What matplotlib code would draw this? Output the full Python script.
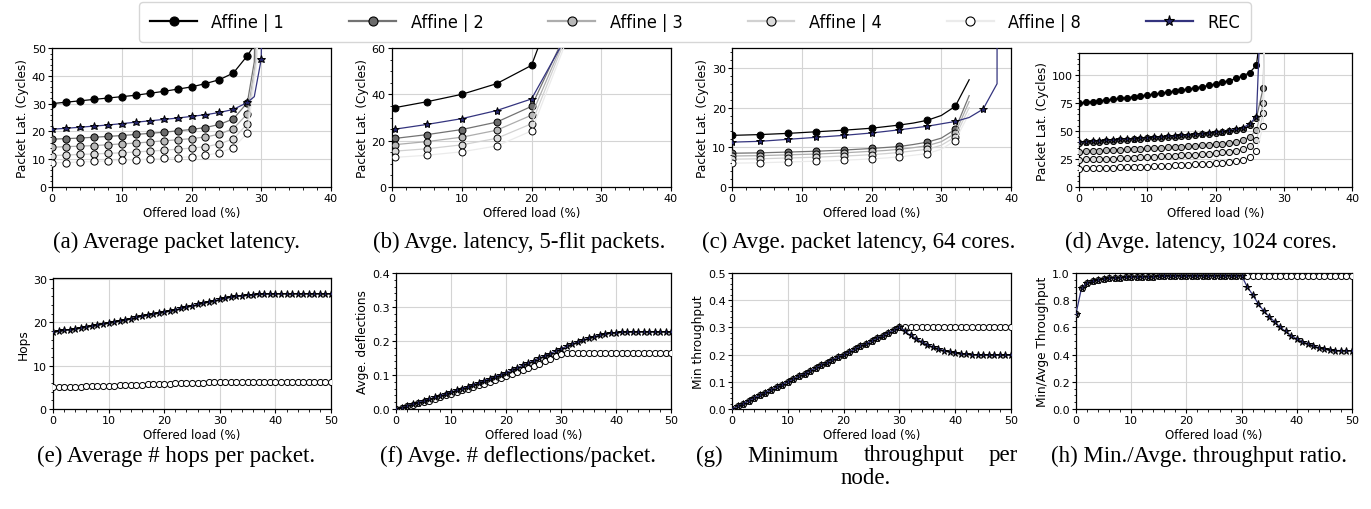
import matplotlib
matplotlib.use('Agg')
import matplotlib.pyplot as plt
from matplotlib.lines import Line2D

W, H = 1371, 510

LABELS = ['Affine | 1', 'Affine | 2', 'Affine | 3', 'Affine | 4', 'Affine | 8', 'REC']

# ---- (a) average packet latency ----
a_x = [0, 2, 4, 6, 8, 10, 12, 14, 16, 18, 20, 22, 24, 26, 28]
a_aff1 = [30.0, 30.5, 31.0, 31.5, 32.0, 32.5, 33.0, 33.7, 34.4, 35.2, 36.0, 37.2, 38.6, 41.0, 47.2]
a_aff2 = [17.2, 17.4, 17.6, 17.9, 18.2, 18.5, 18.9, 19.3, 19.7, 20.2, 20.7, 21.4, 22.5, 24.5, 30.3]
a_aff3 = [14.3, 14.5, 14.7, 14.9, 15.2, 15.5, 15.8, 16.2, 16.6, 17.0, 17.4, 18.0, 19.0, 21.0, 26.3]
a_aff4 = [11.3, 11.5, 11.7, 11.9, 12.1, 12.3, 12.6, 12.9, 13.2, 13.6, 14.0, 14.5, 15.5, 17.3, 22.7]
a_aff8 = [8.7, 8.8, 9.0, 9.2, 9.4, 9.6, 9.8, 10.0, 10.3, 10.6, 10.9, 11.4, 12.3, 14.2, 19.3]
# points past saturation (no markers)
a_tail_x = [[29.0, 29.3], [29.0, 29.5], [29.2, 29.6], [29.3, 29.7], [29.4, 29.8]]
a_tail_y = [[51, 100], [45, 100], [45, 100], [45, 100], [45, 100]]
a_rec_x = [0, 2, 4, 6, 8, 10, 12, 14, 16, 18, 20, 22, 24, 26, 28, 29, 30, 30.2]
a_rec = [20.8, 21.1, 21.5, 21.9, 22.3, 22.8, 23.3, 23.8, 24.3, 24.8, 25.4, 26.0, 26.8, 27.9, 30.4, 32.5, 46.0, 100]
a_rec_marks = list(range(15)) + [16]

# ---- (b) 5-flit packets ----
b_x = [0.5, 5, 10, 15, 20]
b_aff1 = [34.3, 36.8, 40.0, 44.6, 52.5]
b_aff2 = [21.0, 22.6, 24.8, 28.0, 34.8]
b_aff3 = [18.3, 19.6, 21.5, 24.5, 31.0]
b_aff4 = [15.5, 16.5, 18.2, 21.0, 27.3]
b_aff8 = [12.8, 13.7, 15.2, 17.7, 24.2]
b_tail_x = [[21, 22], [25], [25], [25], [25]]
b_tail_y = [[60.5, 80], [67], [66], [65], [63]]
b_rec_x = [0.5, 5, 10, 15, 20, 25]
b_rec = [25.0, 27.0, 29.5, 33.0, 38.0, 65.0]

# ---- (c) 64 cores (data every 2%, markers every 4%) ----
c_x = [0, 2, 4, 6, 8, 10, 12, 14, 16, 18, 20, 22, 24, 26, 28, 30, 32, 34]
c_aff1 = [13.0, 13.1, 13.2, 13.35, 13.5, 13.7, 13.9, 14.1, 14.3, 14.55, 14.8, 15.2, 15.6, 16.1, 16.8, 18.0, 20.3, 27.0]
c_aff2 = [8.5, 8.55, 8.6, 8.7, 8.8, 8.9, 9.0, 9.15, 9.3, 9.5, 9.7, 9.95, 10.2, 10.7, 11.3, 12.3, 14.5, 23.0]
c_aff3 = [7.8, 7.85, 7.9, 8.0, 8.1, 8.2, 8.3, 8.45, 8.6, 8.8, 9.0, 9.2, 9.5, 9.9, 10.4, 11.4, 13.5, 21.5]
c_aff4 = [7.0, 7.05, 7.1, 7.2, 7.3, 7.4, 7.5, 7.65, 7.8, 7.95, 8.15, 8.4, 8.7, 9.1, 9.5, 10.5, 12.6, 20.0]
c_aff8 = [6.0, 6.05, 6.1, 6.2, 6.3, 6.4, 6.5, 6.6, 6.75, 6.9, 7.1, 7.3, 7.6, 8.0, 8.4, 9.5, 11.7, 18.5]
c_rec_x = [0, 2, 4, 6, 8, 10, 12, 14, 16, 18, 20, 22, 24, 26, 28, 30, 32, 34, 36, 38, 38.05]
c_rec = [11.3, 11.4, 11.5, 11.75, 12.0, 12.25, 12.5, 12.75, 13.0, 13.3, 13.6, 14.0, 14.4, 14.85, 15.3,
         15.9, 16.5, 17.5, 19.6, 26.0, 200]

# ---- (d) 1024 cores ----
d_x1 = list(range(27))
d_x = list(range(28))
d_aff1 = [75.0, 75.8, 76.5, 77.2, 77.9, 78.6, 79.3, 80.0, 80.8, 81.6, 82.4, 83.2, 84.0, 84.9, 85.8, 86.7,
          87.7, 88.7, 89.8, 91.0, 92.3, 93.7, 95.3, 97.2, 99.5, 102.5, 109.0]
d_aff2 = [39.5, 39.9, 40.3, 40.7, 41.1, 41.5, 41.9, 42.3, 42.7, 43.1, 43.5, 43.9, 44.3, 44.7, 45.1, 45.6,
          46.1, 46.6, 47.1, 47.7, 48.3, 49.0, 49.8, 50.8, 52.3, 55.5, 62.0, 89.0]
d_aff3 = [31.5, 31.8, 32.1, 32.4, 32.7, 33.0, 33.3, 33.6, 33.9, 34.2, 34.5, 34.8, 35.1, 35.4, 35.7, 36.0,
          36.4, 36.8, 37.2, 37.6, 38.1, 38.7, 39.4, 40.4, 42.0, 45.0, 51.0, 75.0]
d_aff4 = [24.5, 24.7, 24.9, 25.1, 25.3, 25.5, 25.8, 26.0, 26.3, 26.6, 26.9, 27.2, 27.5, 27.8, 28.1, 28.4,
          28.7, 29.1, 29.5, 29.9, 30.4, 31.0, 31.7, 32.6, 34.0, 36.5, 42.0, 66.0]
d_aff8 = [16.5, 16.6, 16.7, 16.9, 17.1, 17.3, 17.5, 17.7, 17.9, 18.1, 18.3, 18.5, 18.8, 19.1, 19.4, 19.7,
          20.0, 20.3, 20.6, 21.0, 21.4, 21.9, 22.5, 23.3, 24.5, 26.5, 32.0, 55.0]
d_rec = [40.0, 40.5, 41.0, 41.4, 41.8, 42.2, 42.6, 43.0, 43.4, 43.8, 44.2, 44.6, 45.0, 45.4, 45.8, 46.3,
         46.8, 47.3, 47.8, 48.4, 49.0, 49.7, 50.5, 51.5, 53.0, 56.5, 63.0]
d_tail_x = [[26.6], [27.2], [27.2], [27.2], [27.2]]
d_tail_y = [[140], [160], [160], [160], [160]]
d_rec_tail_x = [26.5]
d_rec_tail_y = [140]

# ---- bottom row: 0..50 % ----
x50 = list(range(51))
e_aff = [5.0, 5.0, 5.05, 5.1, 5.1, 5.15, 5.2, 5.2, 5.25, 5.3, 5.35, 5.4, 5.45, 5.5, 5.5, 5.55, 5.6,
         5.65, 5.7, 5.75, 5.8, 5.85, 5.9, 5.95, 6.0, 6.05, 6.1, 6.1, 6.15, 6.2, 6.2, 6.25, 6.25, 6.3,
         6.3, 6.3, 6.3, 6.3, 6.3, 6.3, 6.3, 6.3, 6.3, 6.3, 6.3, 6.3, 6.3, 6.3, 6.3, 6.3, 6.3]
e_rec = [17.7, 17.9, 18.1, 18.3, 18.5, 18.7, 18.9, 19.1, 19.35, 19.6, 19.85, 20.1, 20.35, 20.6, 20.85,
         21.1, 21.35, 21.6, 21.85, 22.1, 22.35, 22.6, 22.9, 23.2, 23.5, 23.8, 24.1, 24.4, 24.7, 25.0,
         25.25, 25.5, 25.75, 25.95, 26.1, 26.25, 26.35, 26.45, 26.5, 26.55, 26.6, 26.6, 26.6, 26.6,
         26.6, 26.6, 26.6, 26.6, 26.6, 26.6, 26.6]
f_aff = [0.0, 0.004, 0.008, 0.012, 0.017, 0.021, 0.025, 0.03, 0.035, 0.04, 0.045, 0.05, 0.055, 0.06,
         0.065, 0.07, 0.075, 0.08, 0.086, 0.091, 0.097, 0.103, 0.109, 0.115, 0.121, 0.127, 0.133,
         0.14, 0.147, 0.155, 0.163, 0.165, 0.165, 0.165, 0.165, 0.165, 0.165, 0.165, 0.165, 0.165,
         0.165, 0.165, 0.165, 0.165, 0.165, 0.165, 0.165, 0.165, 0.165, 0.165, 0.165]
f_rec = [0.0, 0.004, 0.009, 0.014, 0.019, 0.024, 0.029, 0.034, 0.039, 0.044, 0.05, 0.055, 0.06, 0.066,
         0.071, 0.077, 0.083, 0.089, 0.095, 0.101, 0.107, 0.114, 0.121, 0.128, 0.135, 0.142, 0.149,
         0.156, 0.163, 0.17, 0.177, 0.184, 0.191, 0.197, 0.203, 0.208, 0.213, 0.217, 0.22, 0.223,
         0.225, 0.226, 0.226, 0.227, 0.227, 0.227, 0.227, 0.227, 0.227, 0.227, 0.227]
g_aff = [0.0, 0.01, 0.02, 0.03, 0.04, 0.05, 0.06, 0.07, 0.08, 0.09, 0.10, 0.11, 0.12, 0.13, 0.14,
         0.15, 0.16, 0.17, 0.18, 0.19, 0.20, 0.21, 0.22, 0.23, 0.24, 0.25, 0.26, 0.27, 0.28, 0.29,
         0.30, 0.30, 0.30, 0.30, 0.30, 0.30, 0.30, 0.30, 0.30, 0.30, 0.30, 0.30, 0.30, 0.30, 0.30,
         0.30, 0.30, 0.30, 0.30, 0.30, 0.30]
g_rec = [0.0, 0.01, 0.02, 0.03, 0.04, 0.05, 0.06, 0.07, 0.08, 0.09, 0.10, 0.11, 0.12, 0.13, 0.14,
         0.15, 0.16, 0.17, 0.18, 0.19, 0.20, 0.21, 0.22, 0.23, 0.24, 0.25, 0.26, 0.27, 0.28, 0.29,
         0.30, 0.285, 0.271, 0.258, 0.247, 0.237, 0.228, 0.221, 0.215, 0.21, 0.206, 0.203, 0.201,
         0.2, 0.199, 0.199, 0.198, 0.198, 0.198, 0.198, 0.198]
h_aff = [0.7, 0.89, 0.925, 0.94, 0.95, 0.955, 0.96, 0.963, 0.966, 0.968, 0.97, 0.971, 0.972, 0.973,
         0.974, 0.975, 0.976, 0.976, 0.977, 0.977, 0.978, 0.978, 0.978, 0.979, 0.979, 0.979, 0.98,
         0.98, 0.98, 0.98, 0.98, 0.98, 0.98, 0.98, 0.98, 0.98, 0.98, 0.98, 0.98, 0.98, 0.98, 0.98,
         0.98, 0.98, 0.98, 0.98, 0.98, 0.98, 0.98, 0.98, 0.98]
h_rec = [0.7, 0.89, 0.925, 0.94, 0.95, 0.955, 0.96, 0.963, 0.966, 0.968, 0.97, 0.971, 0.972, 0.973,
         0.974, 0.975, 0.976, 0.976, 0.977, 0.977, 0.978, 0.978, 0.978, 0.979, 0.979, 0.979, 0.98,
         0.98, 0.98, 0.98, 0.98, 0.9, 0.84, 0.775, 0.72, 0.68, 0.64, 0.6, 0.57, 0.54, 0.515, 0.495,
         0.48, 0.465, 0.45, 0.44, 0.432, 0.43, 0.43, 0.43, 0.428]

TOP_XTICKS = [0, 10, 20, 30, 40]
BOT_XTICKS = [0, 10, 20, 30, 40, 50]

CAPTIONS = ['(a) Average packet latency.', '(b) Avge. latency, 5-flit packets.',
            '(c) Avge. packet latency, 64 cores.', '(d) Avge. latency, 1024 cores.',
            '(e) Average # hops per packet.', '(f) Avge. # deflections/packet.',
            '(g) Minimum throughput per', '(h) Min./Avge. throughput ratio.']
CAPTION_G_TAIL = 'node.'

REC_LINE = '#34347e'
STYLE = {
    'Affine | 1': dict(color='black', mfc='black', marker='o'),
    'Affine | 2': dict(color='0.45', mfc='0.42', marker='o'),
    'Affine | 3': dict(color='0.68', mfc='0.72', marker='o'),
    'Affine | 4': dict(color='0.82', mfc='0.86', marker='o'),
    'Affine | 8': dict(color='0.92', mfc='white', marker='o'),
    'REC': dict(color=REC_LINE, mfc='#25256a', marker='*'),
}


def add_ax(l, t, r, b, xticks):
    ax = fig.add_axes([l / W, 1 - b / H, (r - l) / W, (b - t) / H])
    ax.set_xticks(xticks)
    ax.tick_params(labelsize=8, length=3, width=0.8, pad=1.5)
    ax.tick_params(which='minor', length=1.8, width=0.6)
    ax.minorticks_on()
    ax.grid(True, which='major', color='#d4d4d4', lw=0.8)
    ax.set_axisbelow(True)
    for s in ax.spines.values():
        s.set_linewidth(0.9)
    ax.set_xlabel('Offered load (%)', fontsize=8.5, labelpad=2)
    return ax


def draw(ax, label, x, y, ms, every=None, lw=0.9):
    st = STYLE[label]
    ax.plot(x, y, color=st['color'], lw=lw, marker=st['marker'], mfc=st['mfc'],
            mec='black', mew=0.7, ms=ms + (1.2 if st['marker'] == '*' else 0),
            markevery=every, clip_on=True, zorder=3)


fig = plt.figure(figsize=(W / 100, H / 100), dpi=100)

top_pos = [(52, 49, 331, 188), (392, 49, 671, 188), (732, 49, 1011, 188), (1079, 54, 1352, 188)]
bot_pos = [(53, 279, 331, 410), (396, 274, 671, 410), (732, 274, 1011, 410), (1076, 274, 1352, 410)]
YLAB_FS = 8.7

# (a)
ax = add_ax(*top_pos[0], TOP_XTICKS)
aff = [a_aff1, a_aff2, a_aff3, a_aff4, a_aff8]
for i, yv in enumerate(aff):
    draw(ax, LABELS[i], a_x + a_tail_x[i], yv + a_tail_y[i], 5.2, every=slice(0, len(a_x)))
draw(ax, 'REC', a_rec_x, a_rec, 5.0, every=a_rec_marks)
ax.set_xlim(0, 40)
ax.set_ylim(0, 50)
ax.set_yticks([0, 10, 20, 30, 40, 50])
ax.set_ylabel('Packet Lat. (Cycles)', fontsize=YLAB_FS, labelpad=2)

# (b)
ax = add_ax(*top_pos[1], TOP_XTICKS)
aff = [b_aff1, b_aff2, b_aff3, b_aff4, b_aff8]
for i, yv in enumerate(aff):
    draw(ax, LABELS[i], b_x + b_tail_x[i], yv + b_tail_y[i], 5.0, every=slice(0, len(b_x)))
draw(ax, 'REC', b_rec_x, b_rec, 4.8, every=slice(0, len(b_x)))
ax.set_xlim(0, 40)
ax.set_ylim(0, 60)
ax.set_yticks([0, 20, 40, 60])
ax.set_ylabel('Packet Lat. (Cycles)', fontsize=YLAB_FS, labelpad=2)

# (c)
ax = add_ax(*top_pos[2], TOP_XTICKS)
aff = [c_aff1, c_aff2, c_aff3, c_aff4, c_aff8]
for i, yv in enumerate(aff):
    draw(ax, LABELS[i], c_x, yv, 5.0, every=slice(0, 17, 2))
draw(ax, 'REC', c_rec_x, c_rec, 4.8, every=slice(0, 19, 2))
ax.set_xlim(0, 40)
ax.set_ylim(0, 35)
ax.set_yticks([0, 10, 20, 30])
ax.set_ylabel('Packet Lat. (Cycles)', fontsize=YLAB_FS, labelpad=2)

# (d)
ax = add_ax(*top_pos[3], TOP_XTICKS)
draw(ax, LABELS[0], d_x1 + d_tail_x[0], d_aff1 + d_tail_y[0], 4.4, every=slice(0, len(d_x1)))
aff = [d_aff2, d_aff3, d_aff4, d_aff8]
for i, yv in enumerate(aff):
    draw(ax, LABELS[i + 1], d_x + d_tail_x[i + 1], yv + d_tail_y[i + 1], 4.4, every=slice(0, len(d_x)))
draw(ax, 'REC', d_x1 + d_rec_tail_x, d_rec + d_rec_tail_y, 4.2, every=slice(0, len(d_x1)))
ax.set_xlim(0, 40)
ax.set_ylim(0, 120)
ax.set_yticks([0, 25, 50, 75, 100])
ax.set_ylabel('Packet Lat. (Cycles)', fontsize=YLAB_FS, labelpad=2)

# bottom row
bottom = [(e_aff, e_rec, (0, 30.2), [0, 10, 20, 30], 'Hops'),
          (f_aff, f_rec, (0, 0.4), [0, 0.1, 0.2, 0.3, 0.4], 'Avge. deflections'),
          (g_aff, g_rec, (0, 0.5), [0, 0.1, 0.2, 0.3, 0.4, 0.5], 'Min throughput'),
          (h_aff, h_rec, (0, 1.0), [0, 0.2, 0.4, 0.6, 0.8, 1.0], 'Min/Avge Throughput')]
for pos, (ya, yr, ylim, yt, ylab) in zip(bot_pos, bottom):
    ax = add_ax(*pos, BOT_XTICKS)
    draw(ax, 'Affine | 8', x50, ya, 4.4)
    draw(ax, 'REC', x50, yr, 4.2)
    ax.set_xlim(0, 50)
    ax.set_ylim(*ylim)
    ax.set_yticks(yt)
    if ylim[1] < 2:
        ax.set_yticklabels(['%.1f' % v for v in yt])
    ax.set_ylabel(ylab, fontsize=YLAB_FS, labelpad=2)

# sub-captions: centred, except (g) which wraps and is justified
cap_font = dict(family='Liberation Serif', fontsize=16.5, va='center')
renderer = fig.canvas.get_renderer()


def justify(text, x0, x1, y):
    words = text.split()
    objs = [fig.text(0, 1 - y / H, w, ha='left', **cap_font) for w in words]
    widths = [o.get_window_extent(renderer).width for o in objs]
    gap = (x1 - x0 - sum(widths)) / (len(words) - 1)
    x = x0
    for o, w in zip(objs, widths):
        o.set_x(x / W)
        x += w + gap


cap_x = [176, 519, 859, 1201, 176, 518, None, 1199]
for i, c in enumerate(CAPTIONS):
    y = 242 if i < 4 else 456
    if cap_x[i] is None:
        justify(c, 696, 1018, y)
    else:
        fig.text(cap_x[i] / W, 1 - y / H, c, ha='center', **cap_font)
fig.text(866 / W, 1 - 479 / H, CAPTION_G_TAIL, ha='center', **cap_font)

# shared legend
handles = []
for lab in LABELS:
    st = STYLE[lab]
    handles.append(Line2D([], [], color=st['color'], lw=1.6, marker=st['marker'], mfc=st['mfc'],
                          mec='black', mew=0.8, ms=6.5 if st['marker'] == 'o' else 8))
fig.legend(handles, LABELS, loc='upper center', bbox_to_anchor=(695 / W, 1 - 3 / H), ncol=6,
           prop=dict(family='DejaVu Sans', stretch='condensed', size=13),
           handlelength=2.6, columnspacing=3.6, borderpad=0.6, handletextpad=0.8,
           borderaxespad=0)

fig.savefig('out.png', dpi=100)
